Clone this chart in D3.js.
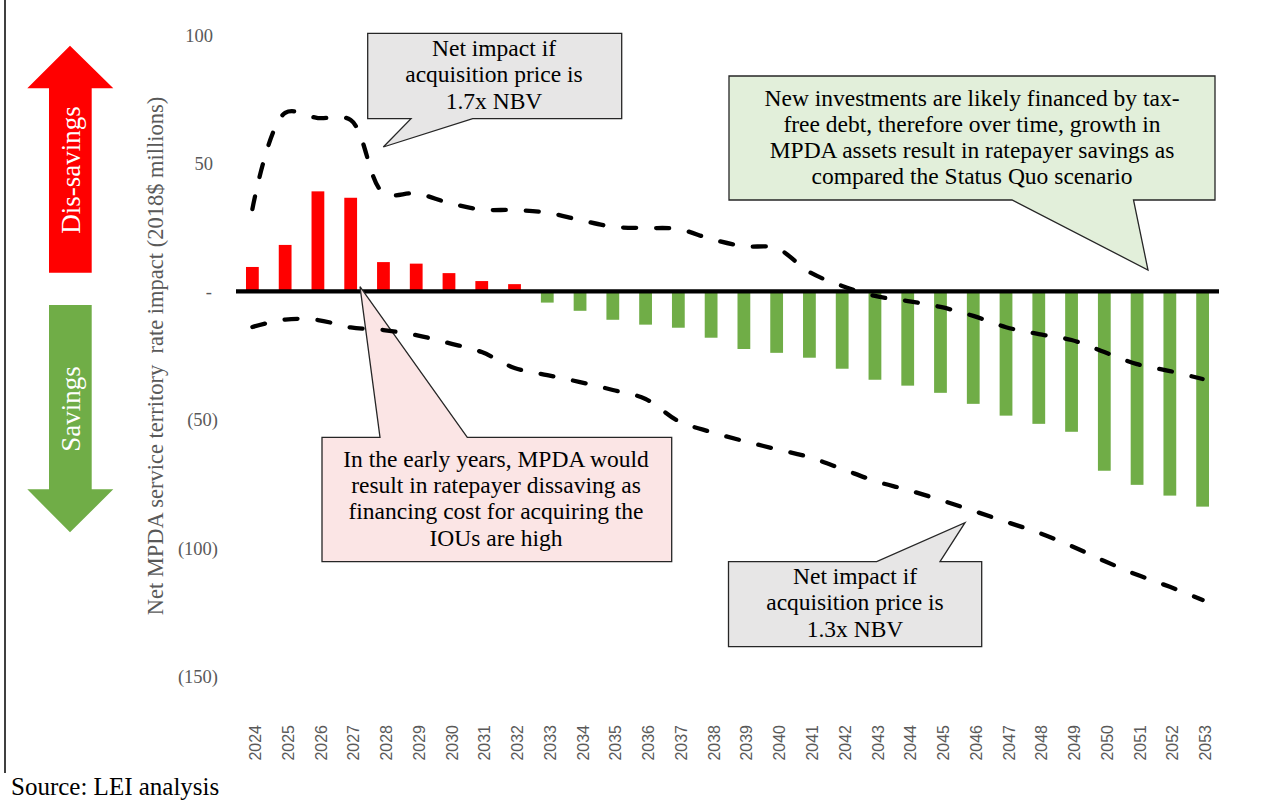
<!DOCTYPE html>
<html>
<head>
<meta charset="utf-8">
<script src="https://cdn.jsdelivr.net/npm/d3@7"></script>
<style>
  html, body { margin: 0; padding: 0; background: #ffffff; }
  svg { display: block; }
</style>
</head>
<body>
<svg id="chart" width="1264" height="801"></svg>
<script>
// ---------------- data ----------------
const years = d3.range(2024, 2054).map(String);
// Net MPDA service territory rate impact (2018$ millions), base case bars
const netImpact = [9.5, 18.1, 39.0, 36.5, 11.4, 10.8, 7.1, 4.0, 2.8,
  -4.4, -7.6, -11.1, -13.0, -14.2, -18.1, -22.5, -24.0, -25.9, -30.2, -34.5,
  -36.8, -39.6, -43.9, -48.5, -51.7, -54.8, -70.0, -75.5, -79.7, -84.0];
// Net impact if acquisition price is 1.7x NBV
const impact17 = [32.1, 69.6, 67.6, 66.8, 38.4, 38.2, 34.5, 31.9, 31.7, 30.7,
  27.8, 25.2, 24.7, 24.3, 20.4, 17.6, 16.8, 7.5, 2.1, -1.8,
  -3.8, -6.1, -9.6, -14.0, -16.7, -19.0, -23.7, -28.4, -31.1, -34.2];
// Net impact if acquisition price is 1.3x NBV
const impact13 = [-13.9, -11.0, -11.2, -14.1, -15.1, -17.1, -20.2, -23.7, -29.9, -32.7,
  -35.4, -38.5, -42.0, -50.6, -54.9, -58.4, -61.6, -64.7, -69.3, -74.0,
  -77.5, -81.4, -85.6, -89.9, -94.2, -99.4, -105.2, -110.6, -115.3, -120.4];
const yTicks = [100, 50, 0, -50, -100, -150];
const yTitle = "Net MPDA service territory\u00A0 rate impact (2018$ millions)";
const callout17 = ["Net impact if", "acquisition price is", "1.7x NBV"];
const callout13 = ["Net impact if", "acquisition price is", "1.3x NBV"];
const calloutGreen = ["New investments are likely financed by tax-",
  "free debt, therefore over time, growth in",
  "MPDA assets result in ratepayer savings as",
  "compared the Status Quo scenario"];
const calloutPink = ["In the early years, MPDA would",
  "result in ratepayer dissaving as",
  "financing cost for acquiring the",
  "IOUs are high"];
const sourceText = "Source: LEI analysis";

// ---------------- setup ----------------
const SERIF = "'Liberation Serif', 'Times New Roman', serif";
const SANS = "'Liberation Sans', Arial, sans-serif";
const GRAY = "#595959";
const svg = d3.select("#chart");

const x = d3.scalePoint().domain(years).range([236, 1219]).padding(0.5);
const y = d3.scaleLinear().domain([-150, 100]).range([675.8, 35]);
const barW = x.step() * 0.39;

// frame line on the left
svg.append("line").attr("x1", 5).attr("x2", 5).attr("y1", 0).attr("y2", 773)
  .attr("stroke", "#000").attr("stroke-width", 1.5);

// ---------------- direction arrows ----------------
const upArrow = [[70, 45.7], [113.3, 88.3], [91.7, 88.3], [91.7, 272.7], [49, 272.7], [49, 88.3], [27.3, 88.3]];
const downArrow = [[49, 305], [91.7, 305], [91.7, 489.3], [113.3, 489.3], [70, 532.3], [27.3, 489.3], [49, 489.3]];
svg.append("path").attr("d", d3.line()(upArrow) + "Z").attr("fill", "#ff0000");
svg.append("path").attr("d", d3.line()(downArrow) + "Z").attr("fill", "#70ad47");
svg.append("text").attr("transform", "translate(80,170) rotate(-90)")
  .attr("text-anchor", "middle").attr("fill", "#fff")
  .style("font-family", SERIF).style("font-size", "27px").text("Dis-savings");
svg.append("text").attr("transform", "translate(80,409) rotate(-90)")
  .attr("text-anchor", "middle").attr("fill", "#fff")
  .style("font-family", SERIF).style("font-size", "27px").text("Savings");

// ---------------- y axis ----------------
const yAxis = d3.axisLeft(y).tickValues(yTicks).tickSize(0).tickPadding(0)
  .tickFormat(v => v > 0 ? String(v) : v === 0 ? "-" : "(" + (-v) + ")");
const yg = svg.append("g").attr("transform", "translate(218,0)").call(yAxis);
yg.select(".domain").remove();
yg.selectAll("text")
  .attr("x", d => d < 0 ? 0 : (d === 0 ? -6 : -5))
  .attr("dy", "0.35em")
  .attr("fill", GRAY)
  .style("font-family", SERIF).style("font-size", "18.5px");

svg.append("text").attr("transform", "translate(163,356) rotate(-90)")
  .attr("text-anchor", "middle").attr("fill", GRAY)
  .style("font-family", SERIF).style("font-size", "22.5px").text(yTitle);

// ---------------- x axis (labels at bottom) ----------------
const xAxis = d3.axisBottom(x).tickSize(0).tickPadding(0);
const xg = svg.append("g").attr("transform", "translate(0,725)").call(xAxis);
xg.select(".domain").remove();
xg.selectAll("text")
  .attr("transform", "rotate(-90)")
  .attr("x", 0).attr("y", 2.5).attr("dy", "0.35em")
  .attr("text-anchor", "end")
  .attr("fill", GRAY)
  .style("font-family", SANS).style("font-size", "16px");

// ---------------- bars ----------------
svg.append("g").selectAll("rect").data(years).join("rect")
  .attr("x", (d) => x(d) - barW / 2)
  .attr("width", barW)
  .attr("y", (d, i) => y(Math.max(0, netImpact[i])))
  .attr("height", (d, i) => Math.abs(y(netImpact[i]) - y(0)))
  .attr("fill", (d, i) => netImpact[i] >= 0 ? "#ff0000" : "#70ad47");

// zero line
svg.append("line").attr("x1", x.range()[0]).attr("x2", x.range()[1])
  .attr("y1", y(0)).attr("y2", y(0))
  .attr("stroke", "#000").attr("stroke-width", 4.3);

// ---------------- callouts ----------------
function callout(d, fill, lines, cx, y0, dy) {
  svg.append("path").attr("d", d).attr("fill", fill)
    .attr("stroke", "#262626").attr("stroke-width", 1.3).attr("stroke-linejoin", "miter");
  const t = svg.append("text").attr("text-anchor", "middle").attr("fill", "#000")
    .style("font-family", SERIF).style("font-size", "23.5px");
  lines.forEach((s, i) => t.append("tspan").attr("x", cx).attr("y", y0 + i * dy).text(s));
}
callout("M367.7,33.3 H621.7 V118.7 H472.7 L383.3,147 L411,118.7 H367.7 Z",
  "#e7e6e6", callout17, 494, 55.5, 26.8);
callout("M729,76 H1215 V200 H1133.5 L1148,270 L1012,200 H729 Z",
  "#e2efda", calloutGreen, 972, 105.5, 26.2);
callout("M322,437.3 H380 L360,286.7 L467.3,437.3 H671.7 V561.7 H322 Z",
  "#fbe5e5", calloutPink, 496, 466.5, 26.4);
callout("M728.5,561.7 H876.7 L965,522.7 L940,561.7 H981.7 V646.7 H728.5 Z",
  "#e7e6e6", callout13, 855, 584, 26.4);

// ---------------- dashed lines ----------------
const lineGen = vals => d3.line()
  .x((d, i) => x(years[i]))
  .y(d => y(d))
  .curve(d3.curveCatmullRom.alpha(0.5))(vals);
[impact17, impact13].forEach(vals => {
  svg.append("path").attr("d", lineGen(vals))
    .attr("fill", "none").attr("stroke", "#000")
    .attr("stroke-width", 4.3).attr("stroke-linecap", "round")
    .attr("stroke-dasharray", "13,20");
});

// ---------------- source ----------------
svg.append("text").attr("x", 11).attr("y", 795).attr("fill", "#000")
  .style("font-family", SERIF).style("font-size", "25px").text(sourceText);
</script>
</body>
</html>
